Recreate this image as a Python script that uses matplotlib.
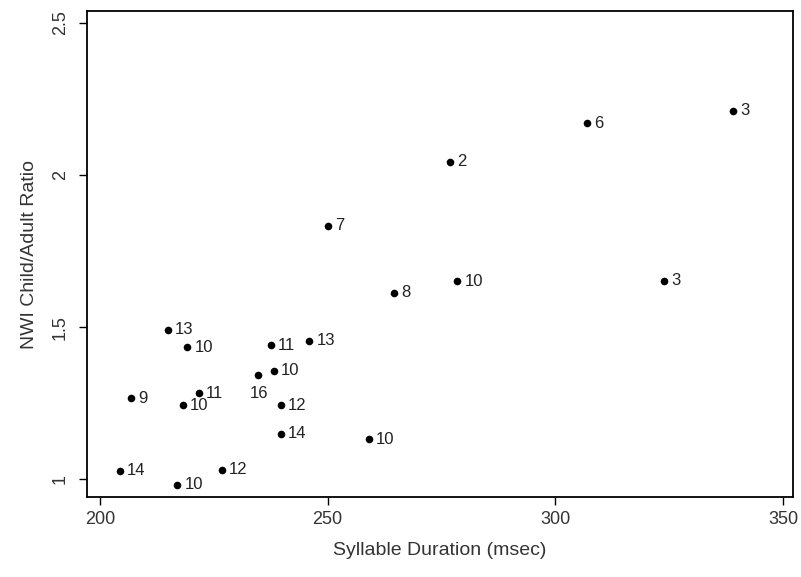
import matplotlib
matplotlib.use("Agg")
import matplotlib.pyplot as plt
from matplotlib import font_manager

# Data
durations = [339.0, 306.9, 323.9, 276.9, 250.1, 278.5, 264.6, 214.9, 219.2, 237.6,
             246.0, 234.6, 238.2, 206.8, 221.8, 218.2, 239.8, 239.8, 204.4, 226.8,
             217.0, 259.1]
ratios = [2.211, 2.170, 1.652, 2.043, 1.833, 1.651, 1.613, 1.491, 1.434, 1.441,
          1.455, 1.343, 1.357, 1.267, 1.283, 1.244, 1.243, 1.149, 1.028, 1.031,
          0.982, 1.132]
counts = ["3", "6", "3", "2", "7", "10", "8", "13", "10", "11",
          "13", "16", "10", "9", "11", "10", "12", "14", "14", "12",
          "10", "10"]
xticks = [200, 250, 300, 350]
yticks = [1, 1.5, 2, 2.5]
ytick_labels = ["1", "1.5", "2", "2.5"]

names = {f.name for f in font_manager.fontManager.ttflist}
fam = ["Liberation Sans Narrow", "Liberation Sans", "DejaVu Sans"]
fam = [f for f in fam if f in names] or ["DejaVu Sans"]
plt.rcParams["font.family"] = fam

fig = plt.figure(figsize=(8.01, 5.77), dpi=100)
ax = fig.add_axes([87 / 801, 1 - 497.3 / 577, (793 - 87) / 801, (497.3 - 11) / 577])

ax.scatter(durations, ratios, s=30, color="black", zorder=3, linewidths=0)

for x, y, c in zip(durations, ratios, counts):
    if c == "16":
        ax.annotate(c, (x, y), xytext=(1, -8), textcoords="offset points",
                    ha="center", va="top", fontsize=12, color="#222222")
    else:
        ax.annotate(c, (x, y), xytext=(5, 0), textcoords="offset points",
                    ha="left", va="center", fontsize=12, color="#222222")

ax.set_xlim(197.14, 352.2)
ax.set_ylim(0.9409, 2.5385)
ax.set_xticks(xticks)
ax.set_xticklabels([str(t) for t in xticks])
ax.set_yticks(yticks)
ax.set_yticklabels(ytick_labels, rotation=90, va="center")

for s in ax.spines.values():
    s.set_linewidth(1.3)
    s.set_color("black")

ax.tick_params(axis="both", direction="out", length=6, width=1.0, colors="black",
               labelsize=13, labelcolor="#333333")
ax.tick_params(axis="x", pad=4)
ax.tick_params(axis="y", pad=7)

ax.set_xlabel("Syllable Duration (msec)", fontsize=14, color="#333333", labelpad=10)
ax.set_ylabel("NWI Child/Adult Ratio", fontsize=14, color="#333333", labelpad=10)

fig.savefig("out.png", dpi=100)
